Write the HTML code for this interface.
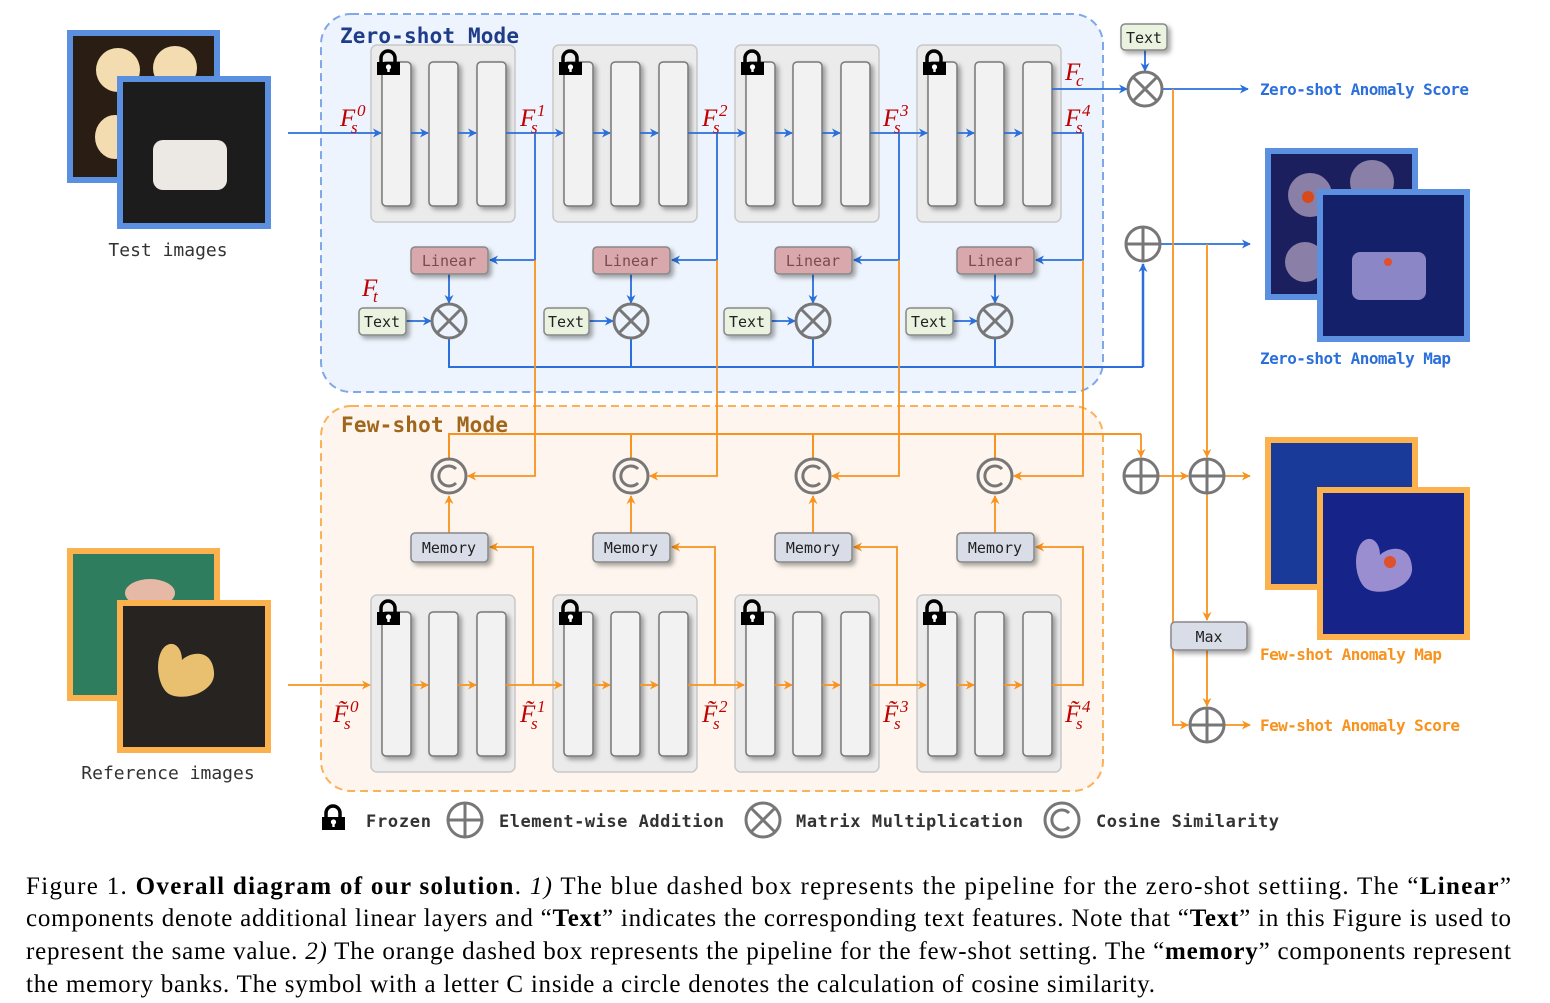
<!DOCTYPE html>
<html><head><meta charset="utf-8"><style>
html,body{margin:0;padding:0;background:#fff;}
svg{display:block;}
.mono{font-family:"DejaVu Sans Mono","Liberation Mono",monospace;}
.fs{font-family:"Liberation Serif",serif;font-style:italic;fill:#c00000;font-size:25px;}
.fs tspan.s{font-size:17px;}
.cap{font-family:"Liberation Serif",serif;font-size:25px;fill:#000;}
</style></head><body>
<svg width="1550" height="1003" viewBox="0 0 1550 1003" xmlns="http://www.w3.org/2000/svg">
<defs>
<marker id="ab" viewBox="0 0 10 10" refX="9" refY="5" markerWidth="9" markerHeight="9" markerUnits="userSpaceOnUse" orient="auto"><path d="M0,0 L10,5 L0,10 L3,5z" fill="#2a6fdb"/></marker>
<marker id="ao" viewBox="0 0 10 10" refX="9" refY="5" markerWidth="9" markerHeight="9" markerUnits="userSpaceOnUse" orient="auto"><path d="M0,0 L10,5 L0,10 L3,5z" fill="#f7931e"/></marker>
<filter id="sh" x="-30%" y="-30%" width="160%" height="160%"><feDropShadow dx="3" dy="3" stdDeviation="2.5" flood-color="#000" flood-opacity="0.35"/></filter>
<g id="lock"><path d="M4,10 v-4 a7,7 0 0 1 14,0 v4" fill="none" stroke="#000" stroke-width="3.5"/><rect x="0" y="10" width="23" height="13" fill="#000"/><circle cx="11.5" cy="15" r="2.6" fill="#fff"/><rect x="10.3" y="15" width="2.4" height="5" fill="#fff"/></g>
<g id="blk">
<rect x="0" y="0" width="144" height="177" rx="6" fill="#ebebeb" stroke="#c8c8c8" stroke-width="1.5"/>
<rect x="11" y="17" width="29" height="144" rx="4" fill="#f2f2f2" stroke="#777" stroke-width="1.5" filter="url(#sh)"/>
<rect x="58" y="17" width="29" height="144" rx="4" fill="#f2f2f2" stroke="#777" stroke-width="1.5" filter="url(#sh)"/>
<rect x="106" y="17" width="29" height="144" rx="4" fill="#f2f2f2" stroke="#777" stroke-width="1.5" filter="url(#sh)"/>
<use href="#lock" x="6" y="7"/>
</g>
<g id="mul"><circle r="17" fill="none" stroke="#777" stroke-width="3"/><path d="M-12,-12 L12,12 M12,-12 L-12,12" stroke="#777" stroke-width="3"/></g>
<g id="add"><circle r="17" fill="none" stroke="#777" stroke-width="3"/><path d="M-17,0 L17,0 M0,-17 L0,17" stroke="#777" stroke-width="3"/></g>
<g id="cos"><circle r="17" fill="none" stroke="#777" stroke-width="3"/><path d="M7,-7 A10,10 0 1 0 7,7" fill="none" stroke="#777" stroke-width="3"/></g>
</defs>

<rect x="321" y="14" width="782" height="378" rx="30" fill="#eef4fd" stroke="#7fa8e8" stroke-width="2" stroke-dasharray="8,5"/>
<rect x="321" y="406" width="782" height="385" rx="30" fill="#fef6ee" stroke="#fbb15a" stroke-width="2" stroke-dasharray="8,5"/>
<text x="340" y="43" class="mono" font-size="21" font-weight="bold" fill="#1f3c88" textLength="179">Zero-shot Mode</text>
<text x="341" y="432" class="mono" font-size="21" font-weight="bold" fill="#a0661c" textLength="167">Few-shot Mode</text>

<rect x="70" y="33" width="147" height="147" fill="#2a1e14" stroke="#5b8fe0" stroke-width="6"/>
<ellipse cx="118" cy="70" rx="22" ry="22" fill="#f3dcb0"/><ellipse cx="175" cy="68" rx="22" ry="22" fill="#f3dcb0"/><ellipse cx="115" cy="137" rx="20" ry="22" fill="#f3dcb0"/>
<rect x="120" y="79" width="148" height="147" fill="#1c1c1c" stroke="#5b8fe0" stroke-width="6"/>
<rect x="153" y="140" width="74" height="50" rx="10" fill="#ece9e4"/>
<text x="168" y="256" class="mono" font-size="18" fill="#333" text-anchor="middle">Test images</text>

<rect x="70" y="551" width="147" height="147" fill="#2e7d5e" stroke="#fbb14e" stroke-width="6"/>
<ellipse cx="150" cy="593" rx="25" ry="14" fill="#e6b9a6"/>
<rect x="120" y="603" width="148" height="147" fill="#262320" stroke="#fbb14e" stroke-width="6"/>
<path d="M162,650 c8,-12 20,-5 20,10 c8,-8 30,-12 32,12 c2,20 -30,30 -45,22 c-10,-6 -15,-30 -7,-44z" fill="#e8c070"/>
<text x="168" y="779" class="mono" font-size="18" fill="#333" text-anchor="middle">Reference images</text>

<rect x="1268" y="151" width="147" height="146" fill="#1b1f5e" stroke="#5b8fe0" stroke-width="6"/>
<circle cx="1310" cy="195" r="22" fill="#8a7fa6"/><circle cx="1372" cy="182" r="22" fill="#8a7fa6"/><circle cx="1305" cy="262" r="20" fill="#8a7fa6"/><circle cx="1308" cy="197" r="6" fill="#d84a1a"/>
<rect x="1320" y="192" width="147" height="147" fill="#14206a" stroke="#5b8fe0" stroke-width="6"/>
<rect x="1352" y="252" width="74" height="48" rx="8" fill="#8b86c6"/><circle cx="1388" cy="262" r="4" fill="#e0502a"/>
<text x="1260" y="364" class="mono" font-size="16" font-weight="bold" fill="#2a6fdb" textLength="191">Zero-shot Anomaly Map</text>

<rect x="1268" y="440" width="147" height="147" fill="#1a3a9a" stroke="#fbb14e" stroke-width="6"/>
<rect x="1320" y="490" width="147" height="147" fill="#16248a" stroke="#fbb14e" stroke-width="6"/>
<path d="M1360,545 c8,-12 20,-5 20,10 c8,-8 30,-12 32,12 c2,20 -30,30 -45,22 c-10,-6 -15,-30 -7,-44z" fill="#9b8ed0"/><circle cx="1390" cy="562" r="6" fill="#e0502a"/>
<text x="1260" y="660" class="mono" font-size="16" font-weight="bold" fill="#f7931e" textLength="182">Few-shot Anomaly Map</text>

<use href="#blk" x="371" y="45"/><use href="#blk" x="553" y="45"/><use href="#blk" x="735" y="45"/><use href="#blk" x="917" y="45"/>
<use href="#blk" x="371" y="595"/><use href="#blk" x="553" y="595"/><use href="#blk" x="735" y="595"/><use href="#blk" x="917" y="595"/>

<g stroke="#2a6fdb" stroke-width="1.8" fill="none" marker-end="url(#ab)">
<line x1="288" y1="133" x2="381" y2="133"/><line x1="411" y1="133" x2="428" y2="133"/><line x1="458" y1="133" x2="476" y2="133"/>
<line x1="506" y1="133" x2="563" y2="133"/><line x1="593" y1="133" x2="610" y2="133"/><line x1="640" y1="133" x2="658" y2="133"/>
<line x1="688" y1="133" x2="745" y2="133"/><line x1="775" y1="133" x2="792" y2="133"/><line x1="822" y1="133" x2="840" y2="133"/>
<line x1="870" y1="133" x2="927" y2="133"/><line x1="957" y1="133" x2="974" y2="133"/><line x1="1004" y1="133" x2="1022" y2="133"/>
<polyline points="535,133 535,260 490,260"/><polyline points="717,133 717,260 672,260"/><polyline points="899,133 899,260 854,260"/><polyline points="1052,133 1083,133 1083,260 1036,260"/>
<line x1="449" y1="274" x2="449" y2="303"/><line x1="631" y1="274" x2="631" y2="303"/><line x1="813" y1="274" x2="813" y2="303"/><line x1="995" y1="274" x2="995" y2="303"/>
<line x1="406" y1="321" x2="431" y2="321"/><line x1="588" y1="321" x2="613" y2="321"/><line x1="770" y1="321" x2="795" y2="321"/><line x1="952" y1="321" x2="977" y2="321"/>
<line x1="1052" y1="89" x2="1127" y2="89"/><line x1="1145" y1="50" x2="1145" y2="71"/>
<line x1="1163" y1="89" x2="1248" y2="89"/><line x1="1161" y1="244" x2="1250" y2="244"/>
</g>
<g stroke="#2a6fdb" stroke-width="2" fill="none">
<polyline points="449,338 449,367 1143,367"/><line x1="631" y1="338" x2="631" y2="367"/><line x1="813" y1="338" x2="813" y2="367"/><line x1="995" y1="338" x2="995" y2="367"/>
</g>
<polyline points="1143,367 1143,264" stroke="#2a6fdb" stroke-width="2.5" fill="none" marker-end="url(#ab)"/>

<g stroke="#f7931e" stroke-width="1.8" fill="none" marker-end="url(#ao)">
<line x1="288" y1="685" x2="370" y2="685"/><line x1="411" y1="685" x2="428" y2="685"/><line x1="458" y1="685" x2="476" y2="685"/>
<line x1="506" y1="685" x2="562" y2="685"/><line x1="593" y1="685" x2="610" y2="685"/><line x1="640" y1="685" x2="658" y2="685"/>
<line x1="688" y1="685" x2="744" y2="685"/><line x1="775" y1="685" x2="792" y2="685"/><line x1="822" y1="685" x2="840" y2="685"/>
<line x1="870" y1="685" x2="926" y2="685"/><line x1="957" y1="685" x2="974" y2="685"/><line x1="1004" y1="685" x2="1022" y2="685"/>
<polyline points="533,685 533,547 490,547"/><polyline points="715,685 715,547 672,547"/><polyline points="897,685 897,547 854,547"/><polyline points="1052,685 1083,685 1083,547 1036,547"/>
<line x1="449" y1="533" x2="449" y2="496"/><line x1="631" y1="533" x2="631" y2="496"/><line x1="813" y1="533" x2="813" y2="496"/><line x1="995" y1="533" x2="995" y2="496"/>
<polyline points="535,260 535,476 468,476"/><polyline points="717,260 717,476 650,476"/><polyline points="899,260 899,476 832,476"/><polyline points="1083,260 1083,476 1014,476"/>
<polyline points="1141,434 1141,457"/>
<line x1="1159" y1="476" x2="1188" y2="476"/><line x1="1225" y1="476" x2="1250" y2="476"/>
<polyline points="1207,244 1207,457"/><polyline points="1207,494 1207,620"/><polyline points="1207,650 1207,706"/>
<polyline points="1173,89 1173,725 1188,725"/><line x1="1225" y1="725" x2="1250" y2="725"/>
</g>
<g stroke="#f7931e" stroke-width="2" fill="none">
<polyline points="449,459 449,434 1141,434"/><line x1="631" y1="459" x2="631" y2="434"/><line x1="813" y1="459" x2="813" y2="434"/><line x1="995" y1="459" x2="995" y2="434"/>
</g>

<use href="#mul" x="449" y="321"/><use href="#mul" x="631" y="321"/><use href="#mul" x="813" y="321"/><use href="#mul" x="995" y="321"/><use href="#mul" x="1145" y="89"/>
<use href="#cos" x="449" y="476"/><use href="#cos" x="631" y="476"/><use href="#cos" x="813" y="476"/><use href="#cos" x="995" y="476"/>
<use href="#add" x="1143" y="244"/><use href="#add" x="1141" y="476"/><use href="#add" x="1207" y="476"/><use href="#add" x="1207" y="725"/>

<g class="mono" font-size="15" text-anchor="middle">
<g fill="#d8a8ad" stroke="#888" stroke-width="1.5" filter="url(#sh)"><rect x="411" y="247" width="77" height="27" rx="4"/><rect x="593" y="247" width="77" height="27" rx="4"/><rect x="775" y="247" width="77" height="27" rx="4"/><rect x="957" y="247" width="77" height="27" rx="4"/></g>
<g fill="#7a4a50"><text x="449" y="266">Linear</text><text x="631" y="266">Linear</text><text x="813" y="266">Linear</text><text x="995" y="266">Linear</text></g>
<g fill="#eaf3df" stroke="#888" stroke-width="1.5" filter="url(#sh)"><rect x="359" y="308" width="47" height="27" rx="4"/><rect x="544" y="308" width="45" height="27" rx="4"/><rect x="724" y="308" width="47" height="27" rx="4"/><rect x="906" y="308" width="47" height="27" rx="4"/><rect x="1121" y="24" width="46" height="26" rx="4"/></g>
<g fill="#222"><text x="382" y="327">Text</text><text x="566" y="327">Text</text><text x="747" y="327">Text</text><text x="929" y="327">Text</text><text x="1144" y="43">Text</text></g>
<g fill="#d8dde8" stroke="#888" stroke-width="1.5" filter="url(#sh)"><rect x="411" y="533" width="77" height="29" rx="4"/><rect x="593" y="533" width="77" height="29" rx="4"/><rect x="775" y="533" width="77" height="29" rx="4"/><rect x="957" y="533" width="77" height="29" rx="4"/><rect x="1171" y="622" width="76" height="28" rx="4"/></g>
<g fill="#222"><text x="449" y="553">Memory</text><text x="631" y="553">Memory</text><text x="813" y="553">Memory</text><text x="995" y="553">Memory</text><text x="1209" y="642">Max</text></g>
</g>

<text x="1260" y="95" class="mono" font-size="16" font-weight="bold" fill="#2a6fdb" textLength="209">Zero-shot Anomaly Score</text>
<text x="1260" y="731" class="mono" font-size="16" font-weight="bold" fill="#f7931e" textLength="200">Few-shot Anomaly Score</text>

<!-- F labels -->
<g class="fs">
<text x="340" y="126">F<tspan class="s" x="351" y="133">s</tspan><tspan class="s" x="357" y="116">0</tspan></text>
<text x="520" y="126">F<tspan class="s" x="531" y="133">s</tspan><tspan class="s" x="537" y="116">1</tspan></text>
<text x="702" y="126">F<tspan class="s" x="713" y="133">s</tspan><tspan class="s" x="719" y="116">2</tspan></text>
<text x="883" y="126">F<tspan class="s" x="894" y="133">s</tspan><tspan class="s" x="900" y="116">3</tspan></text>
<text x="1065" y="126">F<tspan class="s" x="1076" y="133">s</tspan><tspan class="s" x="1082" y="116">4</tspan></text>
<text x="1065" y="80">F<tspan class="s" x="1076" y="86">c</tspan></text>
<text x="362" y="296">F<tspan class="s" x="373" y="302">t</tspan></text>
<text x="333" y="722">F̃<tspan class="s" x="344" y="729">s</tspan><tspan class="s" x="350" y="712">0</tspan></text>
<text x="520" y="722">F̃<tspan class="s" x="531" y="729">s</tspan><tspan class="s" x="537" y="712">1</tspan></text>
<text x="702" y="722">F̃<tspan class="s" x="713" y="729">s</tspan><tspan class="s" x="719" y="712">2</tspan></text>
<text x="883" y="722">F̃<tspan class="s" x="894" y="729">s</tspan><tspan class="s" x="900" y="712">3</tspan></text>
<text x="1065" y="722">F̃<tspan class="s" x="1076" y="729">s</tspan><tspan class="s" x="1082" y="712">4</tspan></text>
</g>

<use href="#lock" x="322" y="807"/>
<text x="366" y="827" class="mono" font-size="17" font-weight="bold" fill="#333" textLength="65">Frozen</text>
<use href="#add" x="465" y="820"/>
<text x="499" y="827" class="mono" font-size="17" font-weight="bold" fill="#333" textLength="225">Element-wise Addition</text>
<use href="#mul" x="763" y="820"/>
<text x="796" y="827" class="mono" font-size="17" font-weight="bold" fill="#333" textLength="227">Matrix Multiplication</text>
<use href="#cos" x="1062" y="820"/>
<text x="1096" y="827" class="mono" font-size="17" font-weight="bold" fill="#333" textLength="183">Cosine Similarity</text>

<text x="26" y="894" class="cap" textLength="1485" lengthAdjust="spacing">Figure 1.  <tspan font-weight="bold">Overall diagram of our solution</tspan>.  <tspan font-style="italic">1)</tspan> The blue dashed box represents the pipeline for the zero-shot settiing.  The “<tspan font-weight="bold">Linear</tspan>”</text>
<text x="26" y="926" class="cap" textLength="1485" lengthAdjust="spacing">components denote additional linear layers and “<tspan font-weight="bold">Text</tspan>” indicates the corresponding text features. Note that “<tspan font-weight="bold">Text</tspan>” in this Figure is used to</text>
<text x="26" y="959" class="cap" textLength="1485" lengthAdjust="spacing">represent the same value. <tspan font-style="italic">2)</tspan> The orange dashed box represents the pipeline for the few-shot setting. The “<tspan font-weight="bold">memory</tspan>” components represent</text>
<text x="26" y="992" class="cap" textLength="1129" lengthAdjust="spacing">the memory banks. The symbol with a letter C inside a circle denotes the calculation of cosine similarity.</text>
</svg>
</body></html>
